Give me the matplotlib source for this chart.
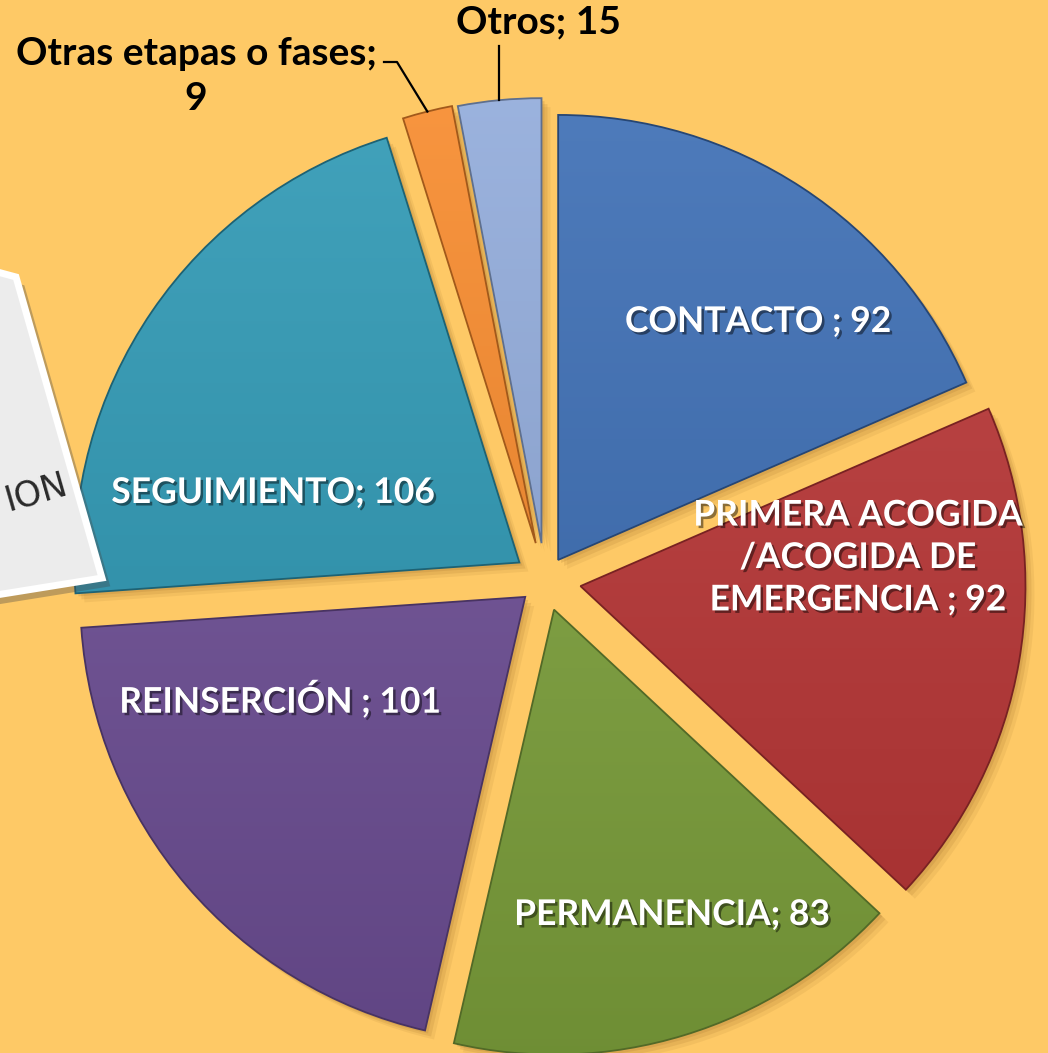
import numpy as np
import matplotlib
matplotlib.use("Agg")
import matplotlib.pyplot as plt
import matplotlib.patheffects as pe
from matplotlib.colors import LinearSegmentedColormap, to_rgb
from matplotlib.patches import Polygon

# ---------------- data ----------------
categories = ["CONTACTO", "PRIMERA ACOGIDA\n/ACOGIDA DE\nEMERGENCIA", "PERMANENCIA",
              "REINSERCIÓN", "SEGUIMIENTO", "Otras etapas o fases", "Otros"]
values = [92, 92, 83, 101, 106, 9, 15]
label_texts = ["CONTACTO ; 92", "PRIMERA ACOGIDA\n/ACOGIDA DE\nEMERGENCIA ; 92",
               "PERMANENCIA; 83", "REINSERCIÓN ; 101", "SEGUIMIENTO; 106",
               "Otras etapas o fases;\n9", "Otros; 15"]

# ---------------- style ----------------
BG = "#FEC966"
colors = ["#3A6CB3", "#B93535", "#7EA23C", "#6E4F96", "#2C97B3", "#F7892A", "#90AADA"]
explode_px = [24, 36, 31, 26, 31, 38, 37]   # explosion distance in pixels

W, H = 1048, 1053
fig = plt.figure(figsize=(W / 100, H / 100), dpi=100)
fig.patch.set_facecolor(BG)
ax = fig.add_axes([0, 0, 1, 1])
ax.set_facecolor(BG)

cx, cy = 545, H - 580
R = 445

def mix(c, t, f):
    c = np.array(to_rgb(c)); t = np.array(to_rgb(t))
    return tuple(c * (1 - f) + t * f)

# soft shadow
for k, a in [(9, 0.15), (6, 0.22), (3, 0.28)]:
    sw, _ = ax.pie(values, startangle=90, counterclock=False, explode=explode_px,
                   radius=R, center=(cx + k, cy - k),
                   colors=["#B8863A"] * len(values),
                   wedgeprops=dict(linewidth=0, alpha=a))
    for s in sw:
        s.set_zorder(1)

wedges, _ = ax.pie(values, colors=colors, startangle=90, counterclock=False,
                   explode=explode_px, radius=R, center=(cx, cy),
                   wedgeprops=dict(linewidth=1.3))

grad = np.linspace(0, 1, 256).reshape(-1, 1)
for w, c in zip(wedges, colors):
    w.set_zorder(3)
    w.set_edgecolor(mix(c, "black", 0.35))
    w.set_facecolor("none")
    cmap = LinearSegmentedColormap.from_list("g", [mix(c, "black", 0.12), mix(c, "white", 0.10)])
    x0, y0 = w.center
    im = ax.imshow(grad, extent=(x0 - R, x0 + R, y0 - R, y0 + R), origin="lower",
                   cmap=cmap, aspect="auto", zorder=2, interpolation="bilinear")
    im.set_clip_path(w)

# ---------------- labels ----------------
font = ["Lato", "DejaVu Sans"]
shadow = [pe.SimplePatchShadow(offset=(1.8, -1.8), shadow_rgbFace="black", alpha=0.45), pe.Normal()]
white_pos = [(758, 322), (858, 558), (672, 915), (280, 700), (273, 493)]
for (x, y), t in zip(white_pos, label_texts[:5]):
    ax.text(x, H - y, t, ha="center", va="center", color="white", fontsize=25.5,
            fontweight="bold", family=font, linespacing=1.4, path_effects=shadow, zorder=6)

ax.text(196, H - 76, label_texts[5], ha="center", va="center", color="black",
        fontsize=28, fontweight="bold", family=font, linespacing=1.35, zorder=6)
ax.text(538, H - 22, label_texts[6], ha="center", va="center", color="black",
        fontsize=28, fontweight="bold", family=font, zorder=6)

def outer_mid(w):
    th = np.deg2rad((w.theta1 + w.theta2) / 2)
    return w.center[0] + w.r * np.cos(th), w.center[1] + w.r * np.sin(th)

ox, oy = outer_mid(wedges[6])
ax.plot([ox, ox], [H - 46, oy], color="black", lw=1.6, zorder=6)
px, py = outer_mid(wedges[5])
ax.plot([384, 397, px], [H - 62, H - 62, py], color="black", lw=1.6, zorder=6)

# partial white box on the left
box = Polygon([(-10, H - 270), (16, H - 277), (102, H - 578), (-10, H - 596)],
              closed=True, facecolor="#ECECEC", edgecolor="white", lw=5, zorder=7,
              path_effects=[pe.SimplePatchShadow(offset=(6, -6), alpha=0.35), pe.Normal()])
ax.add_patch(box)
ax.text(1, H - 492, "ION", ha="left", va="center", color="#2A2A2A", fontsize=25,
        family=["Liberation Sans Narrow", "DejaVu Sans"], rotation=16, zorder=8)

ax.set_xlim(0, W)
ax.set_ylim(0, H)
ax.set_aspect("auto")
ax.axis("off")
fig.savefig("out.png", dpi=100, facecolor=BG)
